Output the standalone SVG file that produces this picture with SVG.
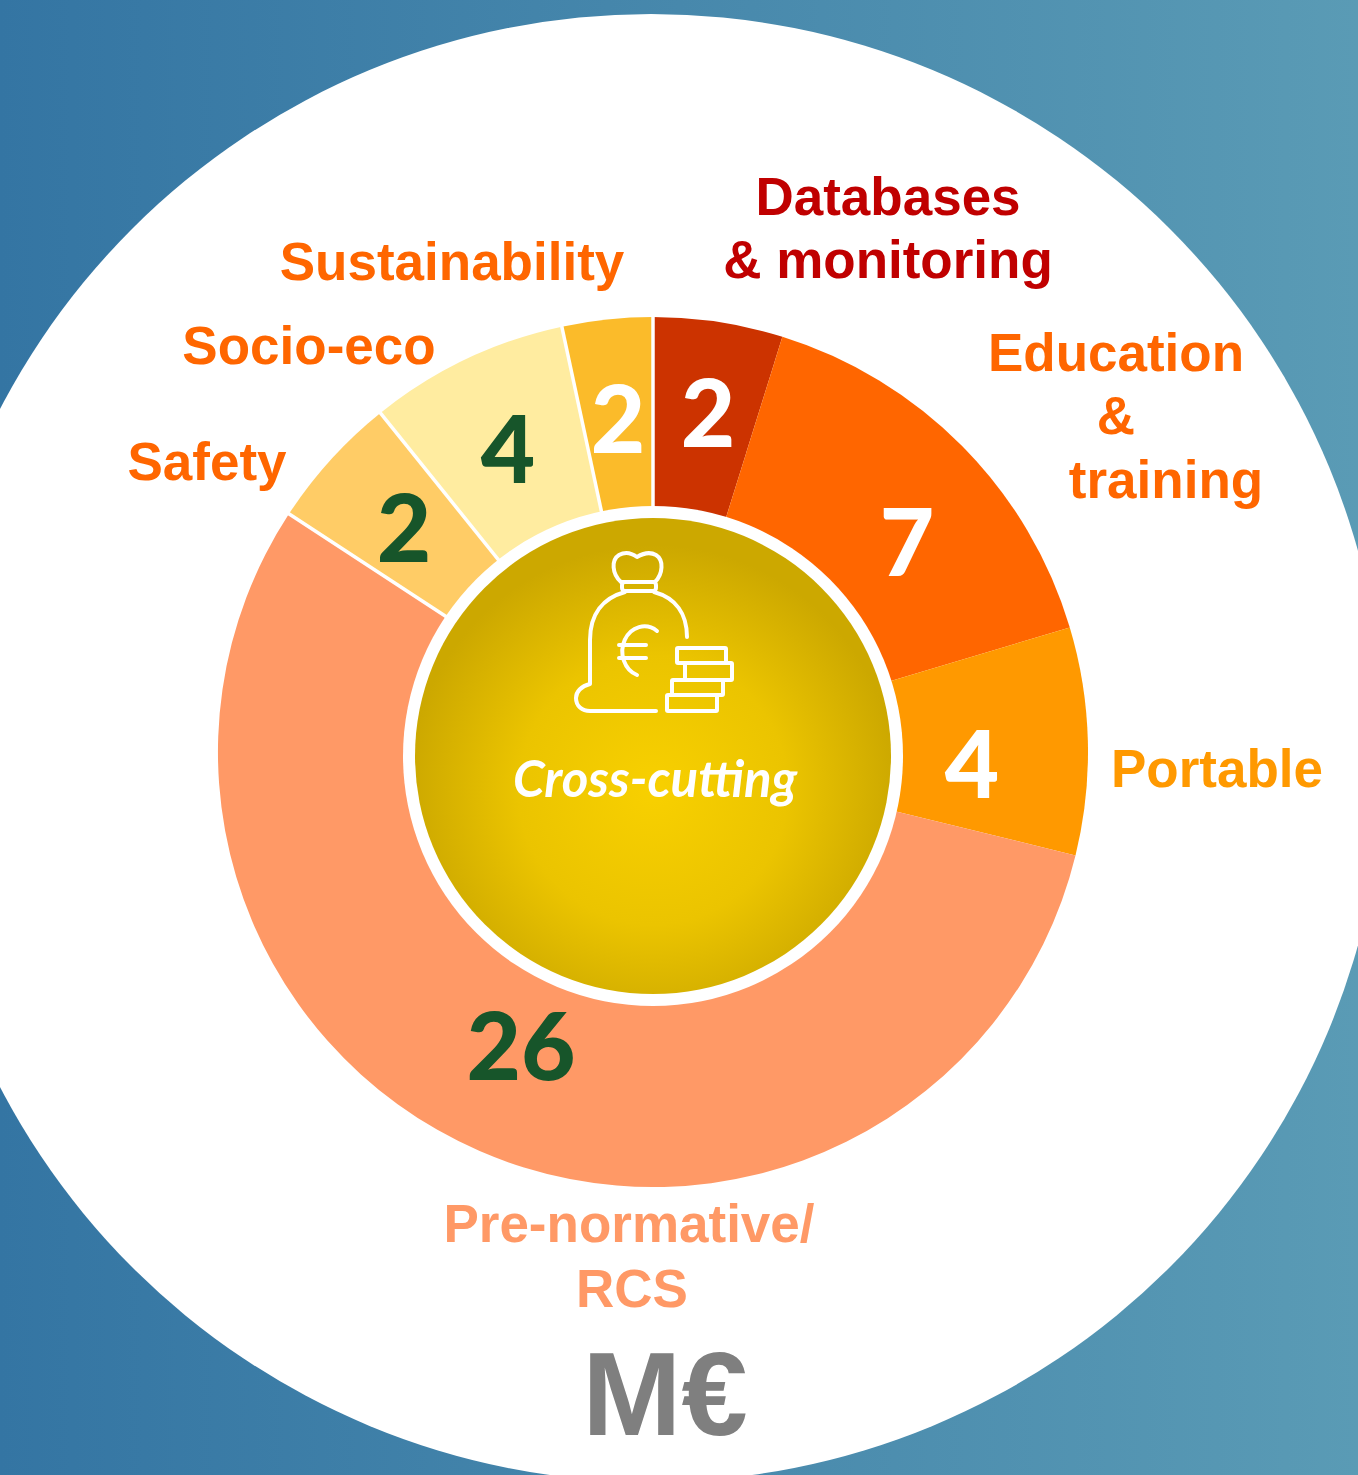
<svg xmlns="http://www.w3.org/2000/svg" width="1358" height="1475" viewBox="0 0 1358 1475">
  <defs>
    <linearGradient id="bg" x1="0" y1="0" x2="1" y2="0">
      <stop offset="0" stop-color="#3475A3"/>
      <stop offset="1" stop-color="#5A9BB5"/>
    </linearGradient>
    <radialGradient id="gold" cx="653" cy="790" r="245" gradientUnits="userSpaceOnUse">
      <stop offset="0" stop-color="#F8D000"/>
      <stop offset="0.55" stop-color="#EBC400"/>
      <stop offset="1" stop-color="#CCA800"/>
    </radialGradient>
    <style>
      .lbl { font-family: "Liberation Sans", Arial, sans-serif; font-weight: bold; font-size: 53px; text-anchor: middle; }
      .num { font-family: Lato, "Open Sans", "Liberation Sans", sans-serif; font-weight: 900; font-size: 94px; text-anchor: middle; }
      .w { fill: #FFFFFF; }
      .g { fill: #17552A; }
      .sep { stroke: #FFFFFF; stroke-width: 3.5; }
      .icon { fill: none; stroke: #FFFFFF; stroke-width: 4; stroke-linecap: round; stroke-linejoin: round; }
    </style>
  </defs>

  <rect x="0" y="0" width="1358" height="1475" fill="url(#bg)"/>
  <circle cx="651" cy="748" r="734" fill="#FFFFFF"/>

  <g id="seg-databases">
    <path d="M653 752 L653 317 A435 435 0 0 1 782.4 336.7 Z" fill="#CC3300"/>
    <text class="num w" x="708" y="447">2</text>
    <text class="lbl" x="888" y="215" fill="#C00000">Databases</text>
    <text class="lbl" x="888" y="278" fill="#C00000">&amp; monitoring</text>
  </g>
  <g id="seg-education">
    <path d="M653 752 L782.4 336.7 A435 435 0 0 1 1069.8 627.4 Z" fill="#FF6600"/>
    <text class="num w" x="907" y="576">7</text>
    <text class="lbl" x="1116" y="371" fill="#FF6600">Education</text>
    <text class="lbl" x="1116" y="434" fill="#FF6600">&amp;</text>
    <text class="lbl" x="1166" y="498" fill="#FF6600">training</text>
  </g>
  <g id="seg-portable">
    <path d="M653 752 L1069.8 627.4 A435 435 0 0 1 1075.5 855.4 Z" fill="#FF9900"/>
    <text class="num w" x="972" y="798">4</text>
    <text class="lbl" x="1217" y="787" fill="#FF9900">Portable</text>
  </g>
  <g id="seg-prenormative">
    <path d="M653 752 L1075.5 855.4 A435 435 0 1 1 289 513.8 Z" fill="#FF9966"/>
    <text class="num g" x="521" y="1080">26</text>
    <text class="lbl" x="629" y="1242" fill="#FF9966">Pre-normative/</text>
    <text class="lbl" x="632" y="1307" fill="#FF9966">RCS</text>
  </g>
  <g id="seg-safety">
    <path d="M653 752 L289 513.8 A435 435 0 0 1 380.4 413 Z" fill="#FFCC66"/>
    <text class="num g" x="404" y="562">2</text>
    <text class="lbl" x="207" y="480" fill="#FF6600">Safety</text>
  </g>
  <g id="seg-socioeco">
    <path d="M653 752 L380.4 413 A435 435 0 0 1 561.8 326.7 Z" fill="#FFECA0"/>
    <text class="num g" x="508" y="483">4</text>
    <text class="lbl" x="309" y="364" fill="#FF6600">Socio-eco</text>
  </g>
  <g id="seg-sustainability">
    <path d="M653 752 L561.8 326.7 A435 435 0 0 1 653 317 Z" fill="#FBBB2A"/>
    <text class="num w" x="618" y="453">2</text>
    <text class="lbl" x="452" y="280" fill="#FF6600">Sustainability</text>
  </g>

  <g id="connectors">
    <line class="sep" x1="653" y1="752" x2="653" y2="315"/>
    <line class="sep" x1="653" y1="752" x2="561.4" y2="324.7"/>
    <line class="sep" x1="653" y1="752" x2="379.1" y2="411.4"/>
    <line class="sep" x1="653" y1="752" x2="287.3" y2="512.7"/>
  </g>

  <g id="center">
    <circle cx="653" cy="756" r="250" fill="#FFFFFF"/>
    <circle cx="653" cy="756" r="238" fill="url(#gold)"/>
    <g id="icon" class="icon">
      <path d="M621 582 C612 574 611 560 619 555 C626 551 633 554 637 557 C642 554 649 551 656 555 C664 560 663 574 655 582 Z"/>
      <rect x="622" y="582" width="34" height="9" rx="3"/>
      <path d="M625 592 C603 598 590 614 590 640 L590 684 C581 686 576 692 576 698 C576 706 582 711 590 711 L656 711"/>
      <path d="M654 592 C676 598 687 614 687 637"/>
      <path d="M657 631 A22 25 0 1 0 637 675"/>
      <path d="M619 645 L646 645 M619 658 L646 658"/>
      <rect x="677" y="648" width="49" height="15" rx="1"/>
      <rect x="685" y="663" width="47" height="17" rx="1"/>
      <rect x="672" y="680" width="51" height="15" rx="1"/>
      <rect x="667" y="695" width="50" height="16" rx="1"/>
    </g>
    <text x="655" y="797" font-family="Lato, 'Open Sans', 'Liberation Sans', sans-serif" font-weight="bold" font-style="italic" font-size="51" fill="#FFFFFF" text-anchor="middle">Cross-cutting</text>
  </g>

  <g id="unit">
    <text x="665" y="1435" font-family="'Liberation Sans', Arial, sans-serif" font-weight="bold" font-size="119" fill="#7F7F7F" text-anchor="middle">M€</text>
  </g>
</svg>
